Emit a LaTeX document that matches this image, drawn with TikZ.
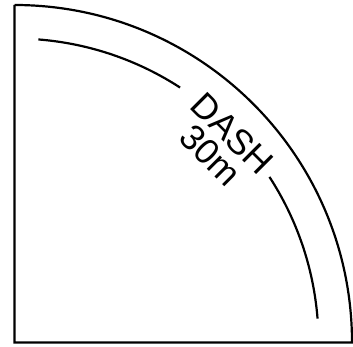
\documentclass[tikz,border=0pt]{standalone}
\usepackage{fontspec}
\setmainfont{Liberation Sans}
\usetikzlibrary{positioning}

\begin{document}
\begin{tikzpicture}[x=1pt,y=1pt,line width=2.2pt,
	lbl/.style={rotate=-45,inner sep=0pt,font=\fontsize{35.5}{40}\selectfont}]
		
		\useasboundingbox (-14.5,-3.5) rectangle (338.5,342.5);
		
		% quarter field
		\draw (0,337.5)--(0,0)--(337.5,0)
		arc[start angle=0,end angle=90,radius=337.5];
		
		% running line, broken for the label
		\draw (85.5:304)
		arc[start angle=85.5,end angle=57,radius=304];
		\draw (33:304)
		arc[start angle=33,end angle=4.5,radius=304];
		
		\node[lbl] (D)
		at (43.8:302)
		{DASH};
		
		\node[lbl] (M)
		at (43.6:271)
		{30m};
		
	\end{tikzpicture}
\end{document}
